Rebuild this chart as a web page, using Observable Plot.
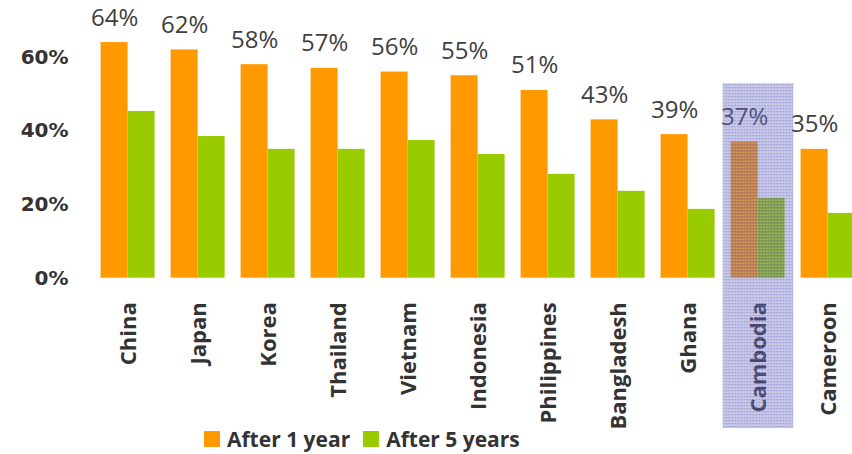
<!DOCTYPE html>
<html><head><meta charset="utf-8">
<script src="https://cdn.jsdelivr.net/npm/d3@7"></script>
<script src="https://cdn.jsdelivr.net/npm/@observablehq/plot@0.6"></script>
<style>
html,body{margin:0;padding:0;background:#fff;overflow:hidden;width:852px;height:454px}
#legend{display:flex;align-items:center;height:22px;padding-left:204px;font:bold 21px "Open Sans";color:#333}
.sw{width:16px;height:16px;margin-right:7px}
.item{display:flex;align-items:center;margin-right:13px;white-space:nowrap}
</style></head><body><div id="chart"></div><div id="legend"></div>
<script>
const countries = ["China","Japan","Korea","Thailand","Vietnam","Indonesia","Philippines","Bangladesh","Ghana","Cambodia","Cameroon"];
const after1Year = [64,62,58,57,56,55,51,43,39,37,35];
const after5Years = [45.3,38.5,35.0,35.0,37.4,33.6,28.2,23.6,18.7,21.7,17.6];
const seriesNames = ["After 1 year","After 5 years"];
const seriesColors = ["#ff9900","#99cc00"];
const yTicks = [0,20,40,60];
const highlightCountry = "Cambodia";
const highlightExtent = [-41.6, 52.8];

const rows = countries.flatMap((c,i)=>[
  {country:c, series:seriesNames[0], value:after1Year[i]},
  {country:c, series:seriesNames[1], value:after5Years[i]}
]);

const plot = Plot.plot({
  width:852, height:428, marginTop:20, marginBottom:150.3, marginLeft:89.4, marginRight:0,
  style:{fontFamily:"'Open Sans'", background:"#fff", overflow:"hidden"},
  fx:{domain:countries, range:[89.4,865.6], paddingInner:0.235, paddingOuter:0.1175, label:null},
  x:{domain:seriesNames, padding:0, axis:null},
  y:{domain:[0,70], axis:null},
  color:{domain:seriesNames, range:seriesColors},
  marks:[
    Plot.barY(rows,{fx:"country", x:"series", y:"value", fill:"series"}),
    Plot.text(rows.filter(d=>d.series===seriesNames[0]), {fx:"country", x:"series", y:"value", text:d=>d.value+"%", lineAnchor:"bottom", dy:-17, fontSize:24, fill:"#404040"}),
    Plot.axisY({ticks:yTicks, tickFormat:d=>d+"%", tickSize:0, tickPadding:33, fontSize:20, fontWeight:"bold", fontFamily:"DejaVu Sans", color:"#333", label:null}),
    Plot.axisFx({anchor:"bottom", tickRotate:-90, tickSize:0, tickPadding:24, fontSize:22, fontWeight:"bold", color:"#333", label:null}),
    Plot.rect([{country:highlightCountry, y1:highlightExtent[0], y2:highlightExtent[1]}], {fx:"country", y1:"y1", y2:"y2", insetLeft:-8.3, insetRight:-8.3, fill:"url(#hl)"})
  ]
});
const svg = plot.tagName.toLowerCase()==="svg" ? plot : plot.querySelector("svg");
const defs = document.createElementNS("http://www.w3.org/2000/svg","defs");
defs.innerHTML = '<pattern id="hl" width="3" height="3" patternUnits="userSpaceOnUse"><rect width="3" height="3" fill="rgb(100,100,195)" fill-opacity="0.4"/><rect width="1" height="1" fill="rgb(60,60,150)" fill-opacity="0.35"/><rect x="2" y="2" width="1" height="1" fill="#fff" fill-opacity="0.3"/></pattern>';
svg.insertBefore(defs, svg.firstChild);
document.getElementById("chart").appendChild(plot);

const legend = document.getElementById("legend");
seriesNames.forEach((s,i)=>{
  const item = document.createElement("div"); item.className="item";
  const sw = document.createElement("div"); sw.className="sw"; sw.style.background=seriesColors[i];
  const t = document.createElement("span"); t.textContent=s;
  item.appendChild(sw); item.appendChild(t); legend.appendChild(item);
});
</script></body></html>
